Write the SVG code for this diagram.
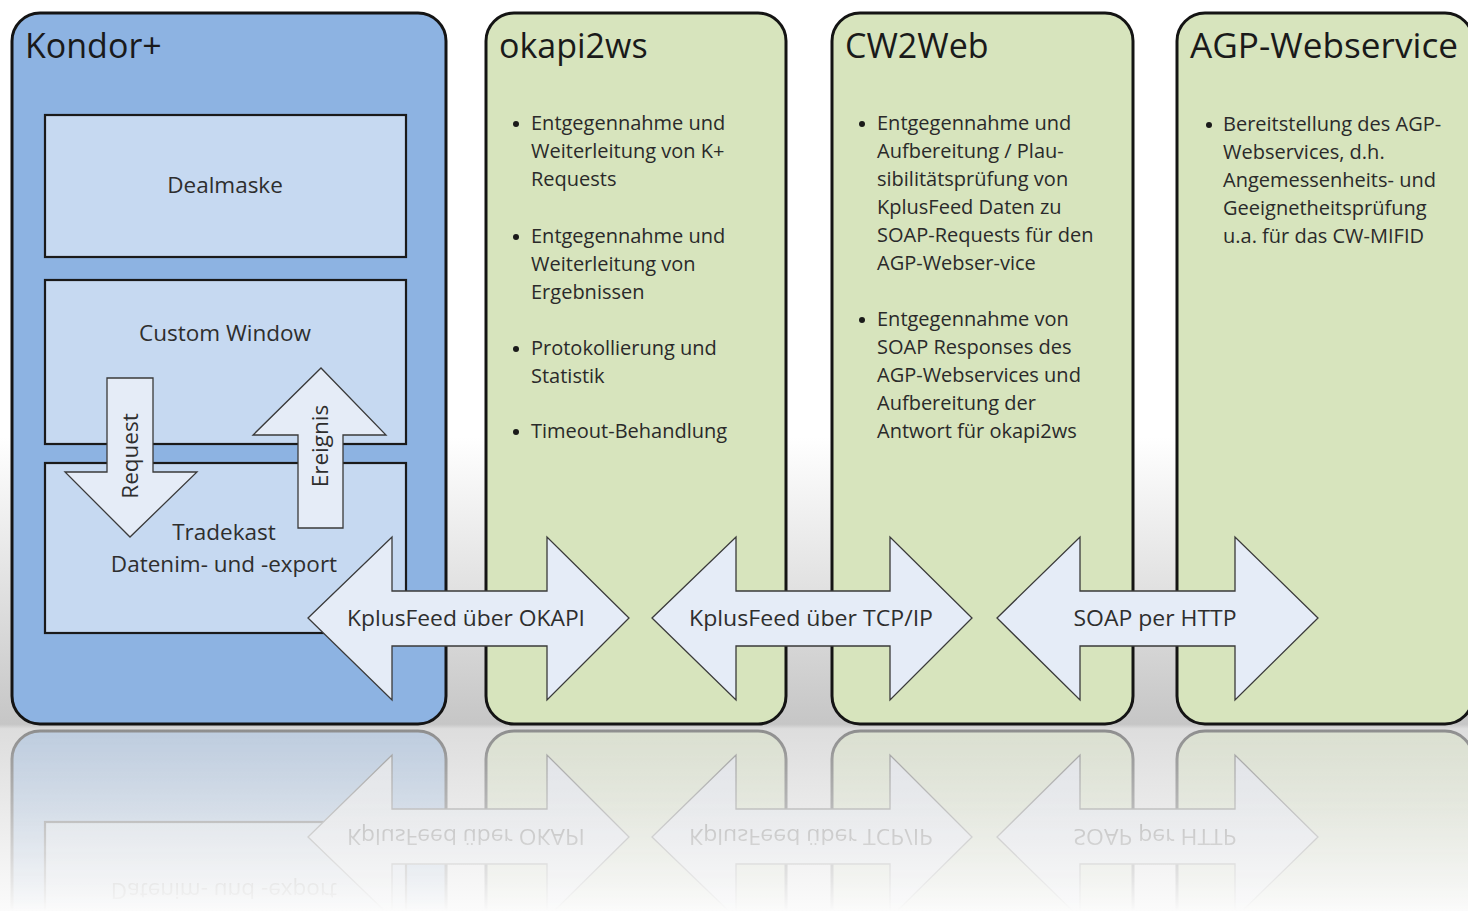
<svg xmlns="http://www.w3.org/2000/svg" xmlns:xlink="http://www.w3.org/1999/xlink" width="1468" height="911" viewBox="0 0 1468 911">
  <style>
    .panelB { fill: #8db3e2; stroke: #141414; stroke-width: 3; }
    .panelG { fill: #d7e4bd; stroke: #141414; stroke-width: 3; }
    .inner { fill: #c6d9f1; stroke: #1a1a1a; stroke-width: 2.2; }
    .blockArrow { fill: #e5ecf7; stroke: #3a3a3a; stroke-width: 1.3; stroke-linejoin: miter; }
    .title { font-family: "Open Sans", "Liberation Sans", sans-serif; font-size: 34px; fill: #1a1a1a; }
    .label { font-family: "Open Sans", "Liberation Sans", sans-serif; font-size: 22.5px; fill: #2e2e2e; text-anchor: middle; }
    .bullet { font-family: "Open Sans", "Liberation Sans", sans-serif; font-size: 20px; fill: #2a2a2a; }
    .dot { fill: #1a1a1a; }
  </style>
  <defs>
    <linearGradient id="bg" x1="0" y1="0" x2="0" y2="911" gradientUnits="userSpaceOnUse">
      <stop offset="0" stop-color="#ffffff"/>
      <stop offset="0.48" stop-color="#ffffff"/>
      <stop offset="0.795" stop-color="#c6c6c6"/>
      <stop offset="0.8" stop-color="#dddddd"/>
      <stop offset="1" stop-color="#fbfbfb"/>
    </linearGradient>
    <linearGradient id="fadeGrad" x1="0" y1="727" x2="0" y2="911" gradientUnits="userSpaceOnUse">
      <stop offset="0" stop-color="#ffffff" stop-opacity="0.4"/>
      <stop offset="0.95" stop-color="#ffffff" stop-opacity="0.03"/>
      <stop offset="1" stop-color="#ffffff" stop-opacity="0"/>
    </linearGradient>
    <mask id="fade" maskUnits="userSpaceOnUse" x="0" y="0" width="1468" height="911">
      <rect x="0" y="727" width="1468" height="184" fill="url(#fadeGrad)"/>
    </mask>
  </defs>

  <rect x="0" y="0" width="1468" height="911" fill="url(#bg)"/>

  <g id="scene">
    <g id="kondor">
      <rect class="panelB" x="12" y="13" width="434" height="711" rx="28"/>
      <text class="title" x="25" y="58">Kondor+</text>
    </g>
    <g id="dealmaske">
      <rect class="inner" x="45" y="115" width="361" height="142"/>
      <text class="label" x="225" y="193">Dealmaske</text>
    </g>
    <g id="custom-window">
      <rect class="inner" x="45" y="280" width="361" height="164"/>
      <text class="label" x="225" y="341">Custom Window</text>
    </g>
    <g id="tradekast">
      <rect class="inner" x="45" y="463" width="361" height="170"/>
      <text class="label" x="224" y="540">Tradekast</text>
      <text class="label" x="224" y="572">Datenim- und -export</text>
    </g>

    <g id="okapi2ws">
      <rect class="panelG" x="486" y="13" width="300" height="711" rx="28"/>
      <text class="title" x="499" y="58">okapi2ws</text>
      <circle class="dot" cx="516" cy="124" r="3"/>
      <text class="bullet" x="531" y="130">Entgegennahme und</text>
      <text class="bullet" x="531" y="158">Weiterleitung von K+</text>
      <text class="bullet" x="531" y="186">Requests</text>
      <circle class="dot" cx="516" cy="237" r="3"/>
      <text class="bullet" x="531" y="243">Entgegennahme und</text>
      <text class="bullet" x="531" y="271">Weiterleitung von</text>
      <text class="bullet" x="531" y="299">Ergebnissen</text>
      <circle class="dot" cx="516" cy="349" r="3"/>
      <text class="bullet" x="531" y="355">Protokollierung und</text>
      <text class="bullet" x="531" y="383">Statistik</text>
      <circle class="dot" cx="516" cy="432" r="3"/>
      <text class="bullet" x="531" y="438">Timeout-Behandlung</text>
    </g>

    <g id="cw2web">
      <rect class="panelG" x="832" y="13" width="301" height="711" rx="28"/>
      <text class="title" x="845" y="58">CW2Web</text>
      <circle class="dot" cx="862" cy="124" r="3"/>
      <text class="bullet" x="877" y="130">Entgegennahme und</text>
      <text class="bullet" x="877" y="158">Aufbereitung / Plau-</text>
      <text class="bullet" x="877" y="186">sibilitätsprüfung von</text>
      <text class="bullet" x="877" y="214">KplusFeed Daten zu</text>
      <text class="bullet" x="877" y="242">SOAP-Requests für den</text>
      <text class="bullet" x="877" y="270">AGP-Webser-vice</text>
      <circle class="dot" cx="862" cy="320" r="3"/>
      <text class="bullet" x="877" y="326">Entgegennahme von</text>
      <text class="bullet" x="877" y="354">SOAP Responses des</text>
      <text class="bullet" x="877" y="382">AGP-Webservices und</text>
      <text class="bullet" x="877" y="410">Aufbereitung der</text>
      <text class="bullet" x="877" y="438">Antwort für okapi2ws</text>
    </g>

    <g id="agp-webservice">
      <rect class="panelG" x="1177" y="13" width="296" height="711" rx="28"/>
      <text class="title" x="1190" y="58" textLength="268" lengthAdjust="spacingAndGlyphs">AGP-Webservice</text>
      <circle class="dot" cx="1209" cy="125" r="3"/>
      <text class="bullet" x="1223" y="131">Bereitstellung des AGP-</text>
      <text class="bullet" x="1223" y="159">Webservices, d.h.</text>
      <text class="bullet" x="1223" y="187">Angemessenheits- und</text>
      <text class="bullet" x="1223" y="215">Geeignetheitsprüfung</text>
      <text class="bullet" x="1223" y="243">u.a. für das CW-MIFID</text>
    </g>

    <g id="connectors">
      <g id="request">
        <path class="blockArrow" d="M107,378 L153,378 L153,472 L197,472 L130,537 L65,472 L107,472 Z"/>
        <text class="label" transform="translate(138,456) rotate(-90)">Request</text>
      </g>
      <g id="ereignis">
        <path class="blockArrow" d="M298,528 L343,528 L343,435 L386,435 L321,368 L253,435 L298,435 Z"/>
        <text class="label" transform="translate(328,446) rotate(-90)">Ereignis</text>
      </g>
      <g id="okapi-link">
        <path class="blockArrow" d="M308,618 L392,537 L392,591 L547,591 L547,537 L629,618 L547,700 L547,646 L392,646 L392,700 Z"/>
        <text class="label" x="466" y="626" textLength="238" lengthAdjust="spacingAndGlyphs">KplusFeed über OKAPI</text>
      </g>
      <g id="tcp-link">
        <path class="blockArrow" d="M652,618 L736,537 L736,591 L890,591 L890,537 L972,618 L890,700 L890,646 L736,646 L736,700 Z"/>
        <text class="label" x="811" y="626" textLength="244" lengthAdjust="spacingAndGlyphs">KplusFeed über TCP/IP</text>
      </g>
      <g id="soap-link">
        <path class="blockArrow" d="M997,618 L1080,537 L1080,591 L1235,591 L1235,537 L1318,618 L1235,700 L1235,646 L1080,646 L1080,700 Z"/>
        <text class="label" x="1155" y="626" textLength="163" lengthAdjust="spacingAndGlyphs">SOAP per HTTP</text>
      </g>
    </g>
  </g>

  <g id="reflection" mask="url(#fade)">
    <use xlink:href="#scene" href="#scene" transform="matrix(1 0 0 -1 0 1455)"/>
  </g>
</svg>
